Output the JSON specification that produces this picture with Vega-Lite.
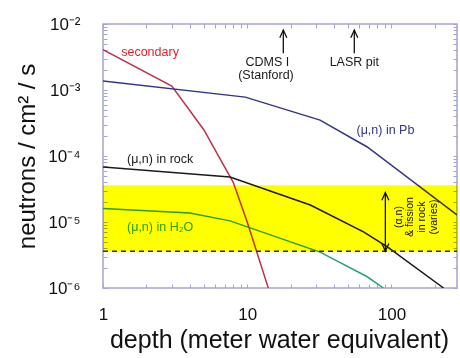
{
  "$schema": "https://vega.github.io/schema/vega-lite/v6.json",
  "width": 354,
  "height": 264,
  "autosize": "none",
  "padding": {"left": 103, "top": 24, "right": 3, "bottom": 70},
  "background": "white",
  "datasets": {
    "curves": [
      {"series": "secondary", "x": 1, "y": 0.0041},
      {"series": "secondary", "x": 3, "y": 0.00115},
      {"series": "secondary", "x": 5, "y": 0.00025},
      {"series": "secondary", "x": 6.5, "y": 0.00009},
      {"series": "secondary", "x": 8, "y": 0.00004},
      {"series": "secondary", "x": 10, "y": 0.00001},
      {"series": "secondary", "x": 14, "y": 0.000001},
      {"series": "Pb", "x": 1, "y": 0.00137},
      {"series": "Pb", "x": 9.7, "y": 0.00078},
      {"series": "Pb", "x": 32, "y": 0.00035},
      {"series": "Pb", "x": 68, "y": 0.000137},
      {"series": "Pb", "x": 285, "y": 0.0000128},
      {"series": "rock", "x": 1, "y": 0.000068},
      {"series": "rock", "x": 7.6, "y": 0.000048},
      {"series": "rock", "x": 27.4, "y": 0.0000181},
      {"series": "rock", "x": 64, "y": 0.0000071},
      {"series": "rock", "x": 93.8, "y": 0.0000042},
      {"series": "rock", "x": 230, "y": 0.000001},
      {"series": "water", "x": 1, "y": 0.000016},
      {"series": "water", "x": 4, "y": 0.0000137},
      {"series": "water", "x": 7.6, "y": 0.0000104},
      {"series": "water", "x": 32, "y": 0.0000035},
      {"series": "water", "x": 68, "y": 0.00000148},
      {"series": "water", "x": 88, "y": 0.000001}
    ],
    "labels": [
      {"text": "secondary", "x": 2.12, "y": 0.00377, "series": "secondarytext"},
      {"text": "(μ,n) in Pb", "x": 90.9, "y": 0.000248, "series": "Pb"},
      {"text": "(μ,n) in rock", "x": 2.49, "y": 0.00009, "series": "rock"},
      {"text": "(μ,n) in H₂O", "x": 2.49, "y": 0.0000084, "series": "water"},
      {"text": "CDMS I", "x": 13.8, "y": 0.00262, "series": "rock"},
      {"text": "(Stanford)", "x": 13.5, "y": 0.00168, "series": "rock"},
      {"text": "LASR  pit", "x": 55.3, "y": 0.00262, "series": "rock"}
    ],
    "vlabels": [
      {"text": "(α,n)", "x": 112, "y": 0.0000119},
      {"text": "& fission", "x": 135.5, "y": 0.0000119},
      {"text": "in rock", "x": 164, "y": 0.0000119},
      {"text": "(varies)", "x": 196, "y": 0.0000119}
    ],
    "shafts": [
      {"x": 17.8, "y": 0.0081, "y2": 0.0036},
      {"x": 55.3, "y": 0.0081, "y2": 0.0036},
      {"x": 90.8, "y": 0.000028, "y2": 0.0000036}
    ],
    "uptips": [
      {"x": 17.8, "y": 0.0081},
      {"x": 55.3, "y": 0.0081},
      {"x": 90.8, "y": 0.000028}
    ],
    "downtips": [
      {"x": 90.8, "y": 0.0000036}
    ],
    "dash": [
      {"x": 1, "y": 0.0000036},
      {"x": 285, "y": 0.0000036}
    ],
    "band": [
      {"x": 1, "x2": 285, "y": 0.0000036, "y2": 0.000036}
    ]
  },
  "layer": [
    {
      "encoding": {
        "x": {
          "field": "x", "type": "quantitative",
          "scale": {"type": "log", "domain": [1, 285], "nice": false},
          "axis": {
            "orient": "bottom",
            "values": [1,2,3,4,5,6,7,8,9,10,20,30,40,50,60,70,80,90,100,200],
            "labelExpr": "datum.value==1?'1':datum.value==10?'10':datum.value==100?'100':''",
            "title": "depth (meter water equivalent)",
            "titleFontSize": 25,
            "titleX": 176,
            "titleY": 59,
            "titleAnchor": null,
            "titleAlign": "center",
            "titleBaseline": "alphabetic",
            "labelFontSize": 17,
            "labelPadding": 22
          }
        },
        "y": {
          "field": "y", "type": "quantitative",
          "scale": {"type": "log", "domain": [0.000001, 0.01], "nice": false},
          "axis": {
            "orient": "left",
            "values": [0.000001,0.000002,0.000003,0.000004,0.000005,0.000006,0.000007,0.000008,0.000009,0.00001,0.00002,0.00003,0.00004,0.00005,0.00006,0.00007,0.00008,0.00009,0.0001,0.0002,0.0003,0.0004,0.0005,0.0006,0.0007,0.0008,0.0009,0.001,0.002,0.003,0.004,0.005,0.006,0.007,0.008,0.009,0.01],
            "labelExpr": "datum.value==0.01?'10⁻²':datum.value==0.001?'10⁻³':datum.value==0.0001?'10⁻⁴':datum.value==0.00001?'10⁻⁵':datum.value==0.000001?'10⁻⁶':''",
            "title": "neutrons / cm² / s",
            "titleFontSize": 24,
            "titleX": -76,
            "titleY": 132,
            "titleAngle": 270,
            "titleAnchor": null,
            "titleAlign": "center",
            "titleBaseline": "middle",
            "labelFontSize": 17,
            "labelPadding": 27
          }
        }
      },
      "layer": [
        {
          "data": {"name": "curves"},
          "mark": {"type": "line", "strokeWidth": 1.5, "clip": true},
          "encoding": {
            "detail": {"field": "series"},
            "color": {
              "field": "series", "type": "nominal", "legend": null,
              "scale": {
                "domain": ["secondary", "Pb", "rock", "water", "secondarytext"],
                "range": ["#c0304a", "#343488", "#1a1a1a", "#2aa07a", "#e4202c"]
              }
            }
          }
        },
        {
          "data": {"name": "dash"},
          "mark": {"type": "line", "strokeWidth": 1.5, "strokeDash": [5, 4], "color": "#333333"},
          "encoding": {}
        },
        {
          "data": {"name": "shafts"},
          "mark": {"type": "rule", "strokeWidth": 1.3, "color": "#111111"},
          "encoding": {"y2": {"field": "y2"}}
        },
        {
          "data": {"name": "uptips"},
          "mark": {"type": "point", "shape": "M-1,2.2L0,0L1,2.2", "filled": false, "size": 49, "strokeWidth": 1.3, "color": "#111111", "opacity": 1},
          "encoding": {}
        },
        {
          "data": {"name": "downtips"},
          "mark": {"type": "point", "shape": "M-1,-2.2L0,0L1,-2.2", "filled": false, "size": 49, "strokeWidth": 1.3, "color": "#111111", "opacity": 1},
          "encoding": {}
        },
        {
          "data": {"name": "labels"},
          "mark": {"type": "text", "font": "Liberation Sans", "fontSize": 12.5, "align": "center", "baseline": "middle"},
          "encoding": {
            "text": {"field": "text"},
            "color": {"field": "series", "type": "nominal", "legend": null}
          }
        },
        {
          "data": {"name": "vlabels"},
          "mark": {"type": "text", "font": "Liberation Sans", "fontSize": 10.5, "angle": 270, "align": "center", "baseline": "middle", "color": "#111111"},
          "encoding": {"text": {"field": "text"}}
        }
      ]
    },
    {
      "data": {"name": "band"},
      "mark": {"type": "rect", "color": "#ffff00", "blend": "multiply"},
      "encoding": {
        "x": {
          "field": "x", "type": "quantitative",
          "axis": {
            "orient": "top",
            "values": [1,2,3,4,5,6,7,8,9,10,20,30,40,50,60,70,80,90,100,200],
            "labels": false, "title": null
          }
        },
        "x2": {"field": "x2"},
        "y": {
          "field": "y", "type": "quantitative",
          "axis": {
            "orient": "right",
            "values": [0.000001,0.000002,0.000003,0.000004,0.000005,0.000006,0.000007,0.000008,0.000009,0.00001,0.00002,0.00003,0.00004,0.00005,0.00006,0.00007,0.00008,0.00009,0.0001,0.0002,0.0003,0.0004,0.0005,0.0006,0.0007,0.0008,0.0009,0.001,0.002,0.003,0.004,0.005,0.006,0.007,0.008,0.009,0.01],
            "labels": false, "title": null
          }
        },
        "y2": {"field": "y2"}
      }
    }
  ],
  "resolve": {"axis": {"x": "independent", "y": "independent"}},
  "config": {
    "font": "Liberation Sans",
    "view": {"stroke": "#a4a4d4", "strokeWidth": 1.5},
    "axis": {
      "domain": false,
      "grid": false,
      "ticks": true,
      "tickSize": -4,
      "tickColor": "#a4a4d4",
      "tickWidth": 1,
      "labelColor": "#111111",
      "titleColor": "#111111",
      "titleFontWeight": "normal",
      "labelFont": "Liberation Sans",
      "titleFont": "Liberation Sans",
      "labelOverlap": false,
      "labelFlush": false,
      "zindex": 1
    }
  }
}
